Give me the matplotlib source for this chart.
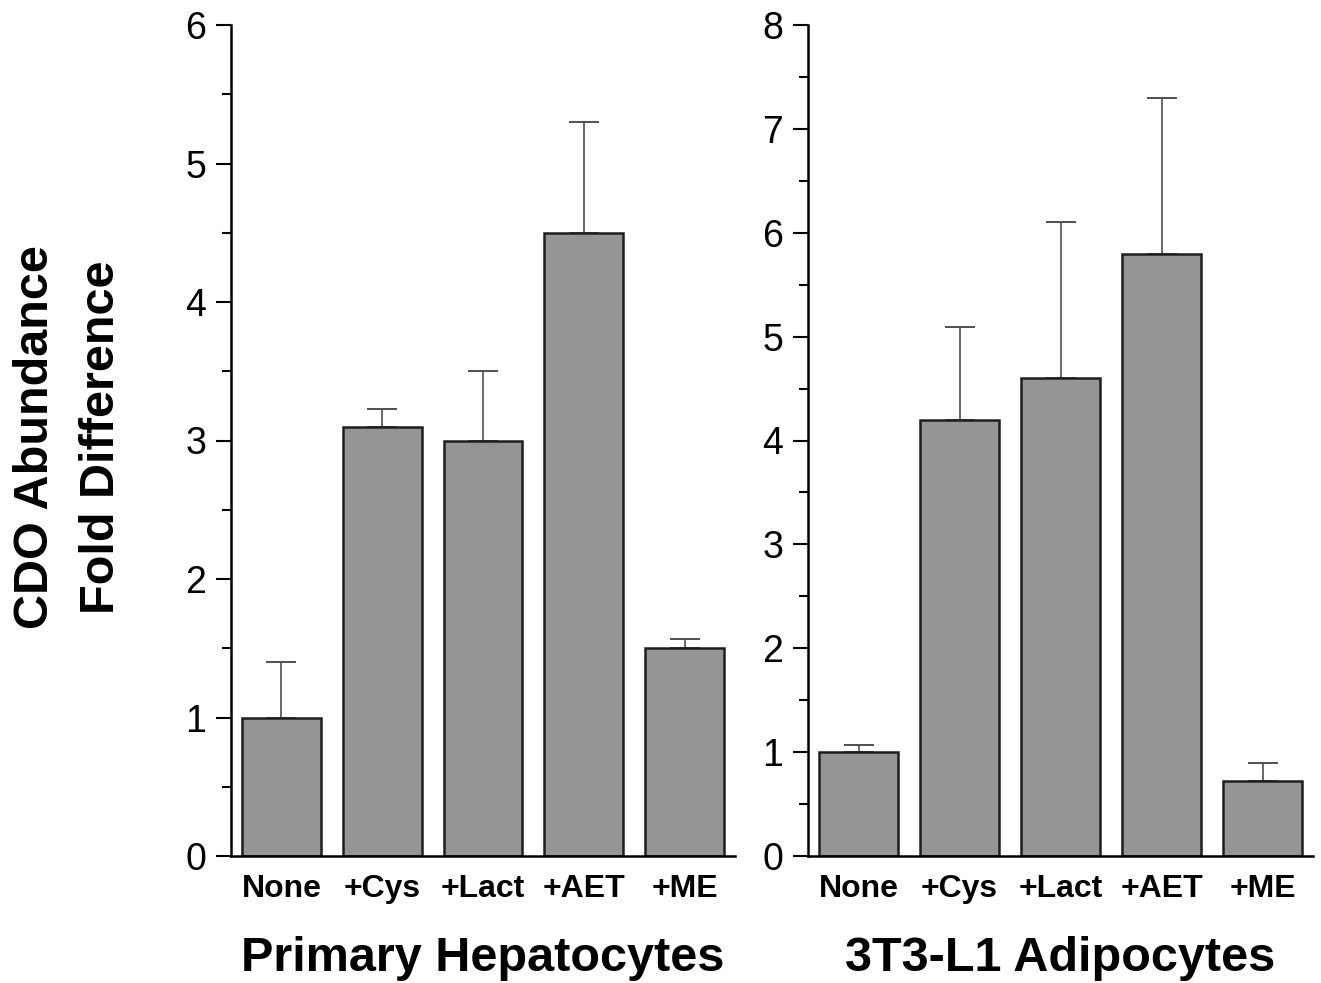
import matplotlib
matplotlib.use("Agg")
import matplotlib.pyplot as plt
from matplotlib.ticker import MultipleLocator

plt.rcParams['font.family'] = ['Liberation Sans', 'DejaVu Sans']

categories = ["None", "+Cys", "+Lact", "+AET", "+ME"]
hep_values = [1.0, 3.1, 3.0, 4.5, 1.5]
hep_upper = [1.40, 3.23, 3.50, 5.30, 1.57]
adi_values = [1.0, 4.2, 4.6, 5.8, 0.72]
adi_upper = [1.07, 5.09, 6.10, 7.30, 0.90]
titles = ["Primary Hepatocytes", "3T3-L1 Adipocytes"]
ylims = [6, 8]
ylabel = "CDO Abundance\nFold Difference"

fig = plt.figure(figsize=(13.21, 9.83), dpi=100)
ax1 = fig.add_axes([231/1321, 1-856/983, 504/1321, 831/983])
ax2 = fig.add_axes([808/1321, 1-856/983, 505/1321, 831/983])

for ax, vals, upp, title, ymax in [(ax1, hep_values, hep_upper, titles[0], ylims[0]),
                                    (ax2, adi_values, adi_upper, titles[1], ylims[1])]:
    x = list(range(len(categories)))
    err = [[0]*len(vals), [u - v for u, v in zip(upp, vals)]]
    ax.errorbar(x, vals, yerr=err, fmt='none', ecolor='#505050', elinewidth=1.2,
                capsize=11, capthick=1.4, zorder=1)
    ax.bar(x, vals, width=0.78, color='#959595', edgecolor='#1e1e1e', linewidth=1.8, zorder=2)
    ax.set_xlim(-0.5, 4.5)
    ax.set_ylim(0, ymax)
    ax.set_xticks(x)
    ax.set_xticklabels(categories, fontsize=23, fontweight='bold')
    ax.yaxis.set_major_locator(MultipleLocator(1))
    ax.yaxis.set_minor_locator(MultipleLocator(0.5))
    ax.tick_params(axis='x', length=0, pad=13)
    ax.tick_params(axis='y', which='major', length=11, width=1.5, labelsize=27, pad=7, direction='out')
    ax.tick_params(axis='y', which='minor', length=6.5, width=1.5, direction='out')
    for s in ['top', 'right']:
        ax.spines[s].set_visible(False)
    ax.spines['left'].set_linewidth(1.8)
    ax.spines['bottom'].set_linewidth(1.8)
    ax.set_xlabel(title, fontsize=35, fontweight='bold', labelpad=23)

fig.text(69/1321, 1-437/983, ylabel, rotation=90, ha='center', va='center',
         fontsize=35, fontweight='bold', linespacing=1.6, multialignment='center')

fig.savefig("out.png", dpi=100)
